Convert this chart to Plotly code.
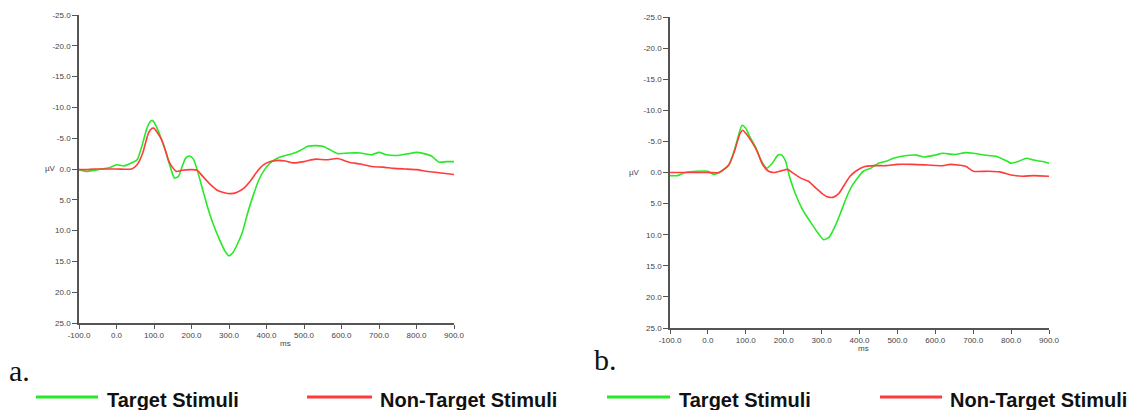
import plotly.graph_objects as go

# ---- Data (ms, µV) ----
a_target_t = [-100, -80, -50, -20, 0, 20, 40, 55, 70, 80, 90, 95, 100, 110, 120, 130, 140, 150, 155, 165, 175, 185, 195, 205, 215, 230, 245, 260, 275, 290, 300, 310, 320, 335, 350, 365, 380, 395, 410, 430, 450, 470, 490, 510, 530, 550, 570, 590, 620, 650, 680, 700, 720, 750, 780, 800, 820, 840, 860, 880, 900]
a_target_v = [0.1, 0.4, 0.1, -0.2, -0.7, -0.5, -1.0, -1.5, -4.2, -6.4, -7.7, -7.9, -7.6, -6.4, -4.8, -3.1, -1.0, 0.9, 1.5, 1.2, -0.4, -1.8, -2.1, -1.6, 0.1, 3.4, 6.6, 9.3, 11.5, 13.4, 14.1, 13.6, 12.5, 10.4, 7.1, 4.2, 1.7, 0.1, -1.0, -1.8, -2.2, -2.5, -3.0, -3.7, -3.8, -3.7, -3.1, -2.5, -2.6, -2.6, -2.3, -2.7, -2.3, -2.2, -2.5, -2.7, -2.5, -2.1, -1.1, -1.2, -1.2]

a_nontarget_t = [-100, -80, -60, 0, 40, 55, 70, 85, 95, 100, 110, 120, 130, 140, 150, 160, 175, 200, 215, 230, 250, 270, 290, 305, 320, 340, 360, 375, 390, 410, 430, 450, 470, 500, 530, 560, 590, 620, 650, 680, 710, 740, 770, 800, 830, 860, 900]
a_nontarget_v = [0.1, 0.1, 0.0, 0.0, 0.0, -0.7, -2.6, -5.8, -6.6, -6.6, -5.8, -4.8, -3.1, -1.2, -0.2, 0.4, 0.2, 0.1, 0.2, 1.2, 2.5, 3.5, 3.9, 4.0, 3.8, 3.1, 1.7, 0.4, -0.6, -1.2, -1.4, -1.3, -1.0, -1.2, -1.6, -1.5, -1.7, -1.1, -0.8, -0.4, -0.3, -0.1, 0.0, 0.1, 0.4, 0.6, 0.9]

b_target_t = [-100, -80, -60, -30, 0, 15, 35, 55, 70, 80, 90, 100, 110, 125, 140, 155, 170, 185, 195, 205, 215, 230, 250, 270, 290, 305, 320, 335, 350, 365, 380, 395, 410, 430, 450, 470, 490, 520, 550, 570, 600, 620, 650, 680, 700, 730, 760, 790, 800, 820, 840, 860, 880, 900]
b_target_v = [0.5, 0.5, 0.0, -0.2, -0.2, 0.3, -0.2, -1.2, -3.6, -5.8, -7.6, -7.1, -5.8, -4.2, -2.0, -0.7, -1.5, -2.8, -2.8, -1.8, 0.6, 3.3, 6.0, 7.9, 9.7, 10.8, 10.4, 8.7, 6.5, 4.1, 2.2, 0.9, -0.2, -0.7, -1.5, -1.8, -2.3, -2.7, -2.8, -2.5, -2.8, -3.1, -2.9, -3.2, -3.1, -2.8, -2.6, -1.8, -1.5, -1.8, -2.3, -2.0, -1.8, -1.5]

b_nontarget_t = [-100, -50, 0, 30, 55, 70, 85, 92, 100, 115, 130, 145, 160, 175, 195, 210, 225, 245, 265, 285, 300, 315, 330, 345, 360, 375, 390, 410, 440, 470, 500, 540, 580, 620, 640, 680, 700, 740, 770, 800, 830, 860, 900]
b_nontarget_v = [0.0, 0.0, 0.0, 0.0, -1.2, -3.4, -6.3, -6.8, -6.3, -5.0, -3.4, -1.2, -0.2, 0.0, -0.3, -0.5, 0.1, 0.9, 1.4, 2.5, 3.3, 3.9, 4.0, 3.4, 2.0, 0.6, -0.2, -0.9, -1.1, -1.1, -1.3, -1.3, -1.2, -1.1, -1.3, -1.0, -0.2, -0.2, -0.1, 0.4, 0.6, 0.5, 0.6]

x_ticks = [-100, 0, 100, 200, 300, 400, 500, 600, 700, 800, 900]
y_ticks = [-25, -20, -15, -10, -5, 0, 5, 10, 15, 20, 25]
x_tick_labels = [f"{v:.1f}" for v in x_ticks]
y_tick_labels = [f"{v:.1f}" for v in y_ticks]

series_names = ["Target Stimuli", "Non-Target Stimuli"]
GREEN = "rgb(40,232,40)"
RED = "rgb(255,60,60)"

W, H = 1141, 410

fig = go.Figure()

line_kw = dict(width=1.6, shape="spline", smoothing=0.6)
fig.add_trace(go.Scatter(x=a_target_t, y=a_target_v, mode="lines", line=dict(color=GREEN, **line_kw), xaxis="x", yaxis="y", showlegend=False))
fig.add_trace(go.Scatter(x=a_nontarget_t, y=a_nontarget_v, mode="lines", line=dict(color=RED, **line_kw), xaxis="x", yaxis="y", showlegend=False))
fig.add_trace(go.Scatter(x=b_target_t, y=b_target_v, mode="lines", line=dict(color=GREEN, **line_kw), xaxis="x2", yaxis="y2", showlegend=False))
fig.add_trace(go.Scatter(x=b_nontarget_t, y=b_nontarget_v, mode="lines", line=dict(color=RED, **line_kw), xaxis="x2", yaxis="y2", showlegend=False))

tick_font = dict(family="Liberation Sans, Arial, sans-serif", size=8, color="#444")

def xax(domain, anchor):
    return dict(domain=domain, anchor=anchor, range=[-100, 900], tickmode="array",
                tickvals=x_ticks, ticktext=x_tick_labels, showline=True, linecolor="#555",
                linewidth=1.5, ticks="outside", ticklen=4, tickcolor="#555", showgrid=False,
                zeroline=False, tickfont=tick_font, fixedrange=True, automargin=False)

def yax(domain, anchor):
    return dict(domain=domain, anchor=anchor, range=[25, -25], tickmode="array",
                tickvals=y_ticks, ticktext=y_tick_labels, showline=True, linecolor="#555",
                linewidth=1.5, ticks="outside", ticklen=5, tickcolor="#555", showgrid=False,
                zeroline=False, tickfont=tick_font, fixedrange=True, automargin=False)

fig.update_layout(
    width=W, height=H,
    margin=dict(l=0, r=0, t=0, b=0, autoexpand=False),
    paper_bgcolor="white", plot_bgcolor="white",
    xaxis=xax([79 / W, 454 / W], "y"),
    yaxis=yax([1 - 323 / H, 1 - 15 / H], "x"),
    xaxis2=xax([670 / W, 1049 / W], "y2"),
    yaxis2=yax([1 - 328 / H, 1 - 17 / H], "x2"),
)

ann = []
unit_font = dict(family="Liberation Sans, Arial", size=8, color="#444")
ann.append(dict(text="ms", x=278 / W, y=1 - 350 / H, xref="paper", yref="paper", showarrow=False, font=unit_font))
ann.append(dict(text="ms", x=871 / W, y=1 - 355 / H, xref="paper", yref="paper", showarrow=False, font=unit_font))
ann.append(dict(text="µV", x=43 / W, y=1 - 169 / H, xref="paper", yref="paper", showarrow=False, font=unit_font))
ann.append(dict(text="µV", x=634 / W, y=1 - 173 / H, xref="paper", yref="paper", showarrow=False, font=unit_font))
# panel letters
letter_font = dict(family="Liberation Serif, Times New Roman", size=30, color="#111")
ann.append(dict(text="a.", x=7 / W, y=1 - 389 / H, xref="paper", yref="paper", showarrow=False,
                xanchor="left", yanchor="bottom", font=letter_font))
ann.append(dict(text="b.", x=592 / W, y=1 - 378 / H, xref="paper", yref="paper", showarrow=False,
                xanchor="left", yanchor="bottom", font=letter_font))

# custom legend
legend_items = [
    (36, 98, 105, GREEN, series_names[0]),
    (307, 372, 378, RED, series_names[1]),
    (607, 670, 677, GREEN, series_names[0]),
    (880, 942, 948, RED, series_names[1]),
]
shapes = []
for x0, x1, tx, col, name in legend_items:
    shapes.append(dict(type="line", xref="paper", yref="paper", x0=x0 / W, x1=x1 / W,
                       y0=1 - 397 / H, y1=1 - 397 / H, line=dict(color=col, width=3)))
    ann.append(dict(text=name, x=tx / W, y=1 - 400 / H, xref="paper", yref="paper", showarrow=False,
                    xanchor="left", yanchor="middle",
                    font=dict(family="Liberation Sans, Arial", size=20, color="#111", weight="bold")))

fig.update_layout(annotations=ann, shapes=shapes)

fig.write_html("out.html", config={"displayModeBar": False},
               post_script="document.body.style.margin='0';document.body.style.overflow='hidden';")
